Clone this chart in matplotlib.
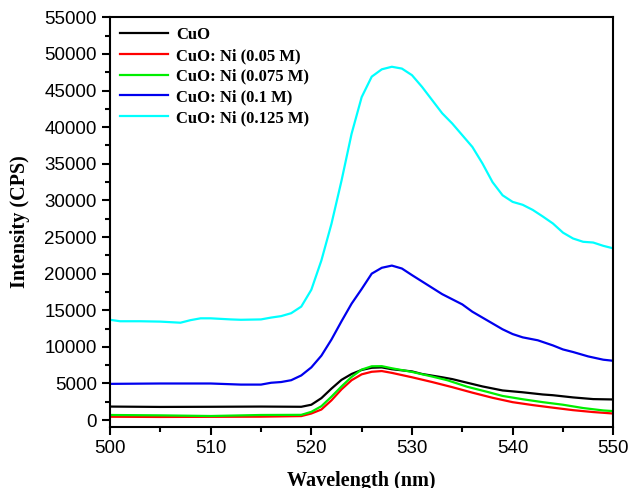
import numpy as np
import matplotlib.pyplot as plt
from matplotlib.ticker import MultipleLocator

# -------------------------------
# Data
# -------------------------------
wl_cuo = [500, 505, 510, 515, 519, 520, 521, 522, 523, 524, 525, 526, 527, 528,
          530, 531, 533, 534, 535.5, 537, 539, 541, 543, 544, 546, 548, 550]
cuo = [1850, 1800, 1820, 1850, 1820, 2100, 3000, 4300, 5500, 6300, 6850, 7150, 7200, 6950,
       6650, 6300, 5850, 5600, 5100, 4600, 4050, 3800, 3500, 3400, 3100, 2870, 2820]

wl_ni005 = [500, 505, 510, 515, 519, 520, 521, 522, 523, 524, 525, 526, 527, 528,
            530, 532, 534, 536, 538, 540, 542, 544, 546, 548, 550]
ni005 = [460, 430, 450, 470, 550, 900, 1450, 2700, 4200, 5450, 6250, 6600, 6700, 6450,
         5850, 5200, 4500, 3750, 3050, 2450, 2050, 1700, 1360, 1100, 900]

wl_ni0075 = [500, 505, 510, 515, 519, 520, 521, 522, 523, 524, 525, 526, 527, 528,
             530, 532, 533.5, 535.5, 537.5, 539, 541, 543, 545, 547, 549, 550]
ni0075 = [700, 650, 560, 700, 720, 1130, 1900, 3200, 4600, 5900, 6900, 7350, 7370, 7080,
          6580, 5950, 5450, 4550, 3850, 3300, 2850, 2450, 2100, 1650, 1320, 1230]

wl_ni01 = [500, 505, 510, 513, 515, 516, 517, 518, 519, 520, 521, 522, 523, 524, 525,
           526, 527, 528, 529, 530, 531.5, 533, 535, 536, 537.5, 539, 540, 541, 542.5,
           544, 545, 546, 547.5, 549, 550]
ni01 = [4950, 5000, 5000, 4850, 4850, 5100, 5200, 5450, 6100, 7200, 8800, 11000, 13500,
        15900, 17900, 20000, 20800, 21100, 20700, 19800, 18500, 17200, 15800, 14800, 13600,
        12400, 11750, 11300, 10900, 10200, 9650, 9300, 8700, 8250, 8100]

wl_ni0125 = [500, 501, 503, 505, 507, 508, 509, 510, 512, 513, 515, 516, 517, 518, 519,
             520, 521, 522, 523, 524, 525, 526, 527, 528, 529, 530, 531, 532, 533, 534,
             535, 536, 537, 538, 539, 540, 541, 542, 543, 544, 545, 546, 547, 548, 549, 550]
ni0125 = [13700, 13500, 13500, 13450, 13300, 13650, 13900, 13900, 13750, 13700, 13750, 14000,
          14200, 14600, 15500, 17800, 21800, 26800, 32700, 39100, 44100, 46900, 47900, 48250,
          48000, 47100, 45500, 43700, 41900, 40500, 38900, 37300, 35050, 32500, 30700, 29800,
          29400, 28700, 27800, 26850, 25600, 24800, 24350, 24250, 23800, 23450]

series = [
    (wl_cuo, cuo, "#000000", "CuO"),
    (wl_ni005, ni005, "#ff0000", "CuO: Ni (0.05 M)"),
    (wl_ni0075, ni0075, "#00ee00", "CuO: Ni (0.075 M)"),
    (wl_ni01, ni01, "#0000ee", "CuO: Ni (0.1 M)"),
    (wl_ni0125, ni0125, "#00ffff", "CuO: Ni (0.125 M)"),
]

plt.rcParams['font.family'] = ['Liberation Sans', 'DejaVu Sans']

fig = plt.figure(figsize=(6.3, 4.88), dpi=100)
ax = fig.add_axes([0.1746, 0.1256, 0.7989, 0.8389])

for x, y, c, lab in series:
    ax.plot(x, y, color=c, lw=1.6, label=lab)

ax.set_xlim(500, 550)
ax.set_ylim(-900, 55000)
ax.xaxis.set_major_locator(MultipleLocator(10))
ax.xaxis.set_minor_locator(MultipleLocator(5))
ax.yaxis.set_major_locator(MultipleLocator(5000))
ax.yaxis.set_minor_locator(MultipleLocator(2500))
ax.tick_params(which='both', direction='out', width=1.5, labelsize=13.5)
ax.tick_params(which='major', length=6)
ax.tick_params(which='minor', length=3.5)
for sp in ax.spines.values():
    sp.set_linewidth(1.5)

ax.set_xlabel("Wavelength (nm)", family='Liberation Serif', fontweight='bold',
              fontsize=14.5, labelpad=10)
ax.set_ylabel("Intensity (CPS)", family='Liberation Serif', fontweight='bold',
              fontsize=14.5, labelpad=10)

leg = ax.legend(loc='upper left', frameon=False, handlelength=2.9, handletextpad=0.45,
                labelspacing=0.28, borderaxespad=0.2,
                prop={'family': 'Liberation Serif', 'weight': 'bold', 'size': 12})

plt.savefig("out.png", dpi=100)
plt.close()
